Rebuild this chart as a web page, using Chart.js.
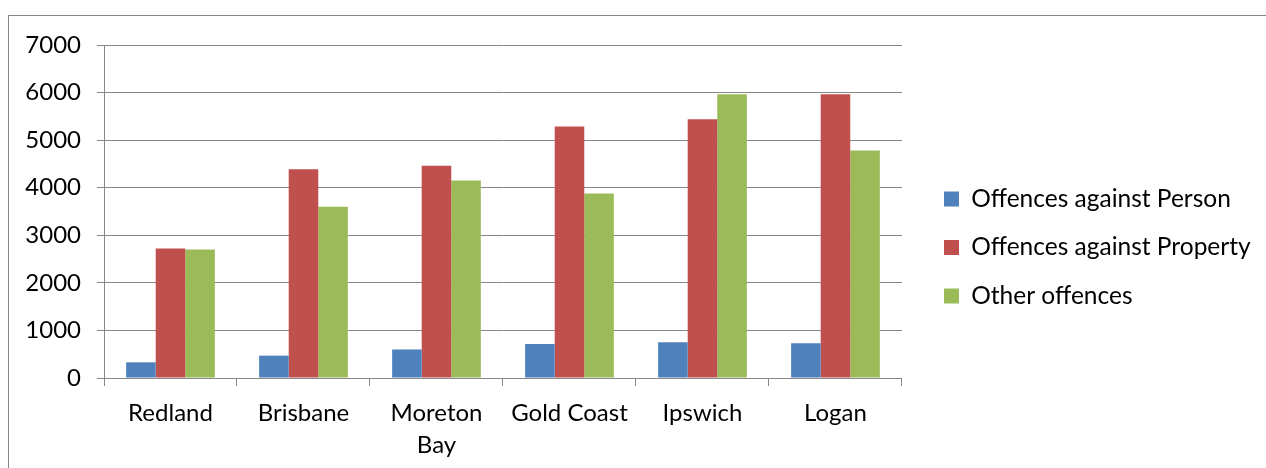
<!DOCTYPE html>
<html>
<head>
<meta charset="utf-8">
<script src="https://cdn.jsdelivr.net/npm/chart.js@4/dist/chart.umd.min.js"></script>
<style>
  html, body { margin: 0; padding: 0; background: #fff; }
  #wrap { position: relative; width: 1266px; height: 468px; overflow: hidden; }
  #frame {
    position: absolute; left: 8px; top: 15px; width: 1400px; height: 600px;
    border-left: 1px solid #878787; border-top: 1px solid #878787;
  }
  #c { position: absolute; left: 0; top: 0; }
</style>
</head>
<body>
<div id="wrap">
  <div id="frame"></div>
  <canvas id="c" width="1266" height="468"></canvas>
</div>
<script>
// Recorded offences by region
const regions = ['Redland', 'Brisbane', ['Moreton', 'Bay'], 'Gold Coast', 'Ipswich', 'Logan'];
const seriesNames = ['Offences against Person', 'Offences against Property', 'Other offences'];
const againstPerson   = [330, 470, 600, 715, 750, 730];
const againstProperty = [2720, 4390, 4460, 5285, 5440, 5965];
const otherOffences   = [2700, 3600, 4150, 3880, 5965, 4780];
const yTicks = [0, 1000, 2000, 3000, 4000, 5000, 6000, 7000];

const palette = ['#4F81BD', '#C0504D', '#9BBB59'];
const seriesValues = [againstPerson, againstProperty, otherOffences];
const axisGrey = '#878787';
const fontFamily = 'Lato, "Open Sans", sans-serif';

// moves the legend column right of the plot and widens its clip box to the canvas edge
const legendShift = {
  id: 'legendShift',
  afterLayout(chart) {
    const l = chart.legend;
    if (!l) return;
    const dx = 18, dy = -9;
    l.left += dx; l.top += dy; l.bottom += dy;
    l.right = chart.width;
    l.width = l.right - l.left;
    (l.legendHitBoxes || []).forEach(h => { h.left += dx; h.top += dy; });
  }
};

new Chart(document.getElementById('c'), {
  type: 'bar',
  data: {
    labels: regions,
    datasets: seriesNames.map((name, i) => ({
      label: name,
      data: seriesValues[i],
      backgroundColor: palette[i],
      borderWidth: 0,
      categoryPercentage: 0.667,
      barPercentage: 1.0
    }))
  },
  options: {
    responsive: false,
    animation: false,
    devicePixelRatio: 1,
    layout: { padding: { left: 10, top: 45, right: 66.7, bottom: 0 } },
    plugins: {
      tooltip: { enabled: false },
      legend: {
        position: 'right',
        align: 'center',
        labels: {
          color: '#000',
          font: { family: fontFamily, size: 24.5 },
          boxWidth: 15,
          boxHeight: 15,
          padding: 24
        }
      }
    },
    scales: {
      x: {
        grid: {
          display: true,
          offset: true,
          drawOnChartArea: false,
          drawTicks: true,
          tickLength: 8,
          color: axisGrey,
          lineWidth: 1
        },
        border: { display: true, color: axisGrey, width: 1 },
        ticks: {
          color: '#000',
          font: { family: fontFamily, size: 24, lineHeight: 1.33 },
          padding: 11,
          maxRotation: 0,
          autoSkip: false
        },
        afterFit(scale) { scale.height = 90; }
      },
      y: {
        min: 0,
        max: 7000,
        afterBuildTicks(scale) { scale.ticks = yTicks.map(v => ({ value: v })); },
        grid: {
          color: axisGrey,
          lineWidth: 1,
          drawTicks: true,
          tickLength: 7
        },
        border: { display: true, color: axisGrey, width: 1 },
        ticks: {
          color: '#000',
          font: { family: fontFamily, size: 24 },
          padding: 16,
          callback: v => String(v)
        },
        afterFit(scale) { scale.width = 94; }
      }
    }
  },
  plugins: [legendShift]
});
</script>
</body>
</html>
